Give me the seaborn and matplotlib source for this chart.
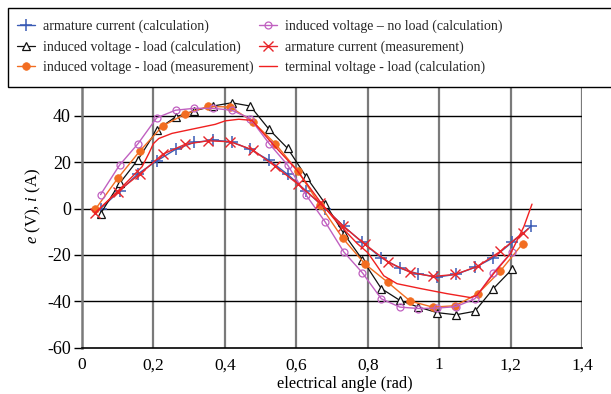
import matplotlib
matplotlib.use("Agg")
import matplotlib.pyplot as plt
import seaborn as sns
import pandas as pd
from matplotlib.patches import Rectangle

# ---- data ----
x_calc = [0.052, 0.105, 0.157, 0.209, 0.262, 0.314, 0.367, 0.419, 0.471, 0.524,
          0.576, 0.628, 0.681, 0.733, 0.785, 0.838, 0.890, 0.942, 0.995, 1.047,
          1.100, 1.152, 1.204, 1.257]
i_calc = [0, 7.5, 15, 20.5, 25.5, 28.5, 29.5, 28.8, 25.5, 20.8,
          14.7, 7.5, 0, -7.7, -14.6, -21.2, -25.7, -28.2, -29.5, -28.4,
          -25.4, -21.2, -14.6, -7.7]
e_load_calc = [-2.2, 10.8, 21.1, 33.8, 39.5, 42.1, 44.2, 45.6, 44.2, 34.1,
               25.9, 13.6, 2.1, -10.8, -22, -34.5, -39.6, -42.5, -44.9, -45.8,
               -44.3, -34.5, -26.2]
e_noload_calc = [6, 18.7, 28, 39.1, 42.4, 43.2, 43.2, 42.4, 38.8, 28,
                 18.7, 5.7, -5.8, -18.7, -27.7, -38.9, -42.5, -43.1, -42.9, -42.3,
                 -38.9, -27.7, -18.6]
x_meas = [0.037, 0.100, 0.163, 0.226, 0.289, 0.352, 0.415, 0.478, 0.541, 0.604,
          0.667, 0.730, 0.793, 0.856, 0.919, 0.982, 1.045, 1.108, 1.171, 1.234]
i_meas = [-1.8, 7.3, 15, 23.4, 27.7, 29.2, 28.8, 25.3, 18.2, 10.6,
          2.2, -7.4, -15.5, -23, -27.5, -29.3, -28.4, -24.9, -18.5, -10.5]
e_load_meas = [-0.4, 13, 25, 35.6, 40.8, 44, 43.8, 37.5, 28, 16.2,
               1.4, -12.8, -24, -31.8, -39.9, -42.5, -41.9, -36.8, -27, -15.1]
x_term = [0.035, 0.103, 0.168, 0.187, 0.200, 0.215, 0.252, 0.317, 0.373, 0.401,
          0.439, 0.476, 0.537, 0.602, 0.667, 0.705, 0.733, 0.770, 0.800, 0.825,
          0.845, 0.882, 0.948, 1.022, 1.088, 1.106, 1.153, 1.200, 1.237, 1.260]
u_term = [-2.2, 7.9, 18, 23.7, 28, 30.2, 32.4, 34.5, 36.3, 37.8,
          38.5, 38.0, 27.3, 16.5, 2.9, -4.3, -9, -15, -19, -24.5,
          -29, -32.4, -34.5, -36.7, -38.4, -37.4, -28, -19.4, -7.9, 1.9]

xtick_vals = [0, 0.2, 0.4, 0.6, 0.8, 1.0, 1.2, 1.4]
xtick_labels = ["0", "0,2", "0,4", "0,6", "0,8", "1", "1,2", "1,4"]
ytick_vals = [-60, -40, -20, 0, 20, 40]
ytick_labels = ["-60", "-40", "-20", "0", "20", "40"]

labels = ["armature current (calculation)",
          "induced voltage - load (calculation)",
          "induced voltage - load (measurement)",
          "induced voltage \u2013 no load (calculation)",
          "armature current (measurement)",
          "terminal voltage - load (calculation)"]

# ---- style ----
sns.set_theme(style="white")
plt.rcParams['font.family'] = ['Liberation Serif', 'DejaVu Serif']
plt.rcParams['mathtext.fontset'] = 'custom'
plt.rcParams['mathtext.rm'] = 'Liberation Serif'
plt.rcParams['mathtext.it'] = 'Liberation Serif:italic'

W, H = 611, 394
fig = plt.figure(figsize=(W / 100, H / 100), dpi=100)
ax = fig.add_axes([82 / W, 1 - 347.7 / H, (582 - 82) / W, (347.7 - 87) / H])

c_blue = "#3a5bb5"
c_black = "#111111"
c_orange = "#f26d21"
c_mag = "#c060c0"
c_red = "#e8262b"
c_red2 = "#f02020"

df_calc = pd.DataFrame({"x": x_calc, "i": i_calc})
df_calc2 = pd.DataFrame({"x": x_calc[:len(e_load_calc)], "el": e_load_calc, "en": e_noload_calc})
df_meas = pd.DataFrame({"x": x_meas, "i": i_meas, "e": e_load_meas})
df_term = pd.DataFrame({"x": x_term, "u": u_term})

sns.lineplot(data=df_calc, x="x", y="i", ax=ax, sort=False, estimator=None,
             color=c_blue, linewidth=1.0, marker="+", markersize=9,
             markeredgecolor=c_blue, markeredgewidth=1.1, label=labels[0])
sns.lineplot(data=df_calc2, x="x", y="el", ax=ax, sort=False, estimator=None,
             color=c_black, linewidth=0.9, marker="^", markersize=5.5,
             markerfacecolor="white", markeredgecolor=c_black, markeredgewidth=0.9,
             label=labels[1])
sns.lineplot(data=df_meas, x="x", y="e", ax=ax, sort=False, estimator=None,
             color=c_orange, linewidth=1.0, marker="o", markersize=5.5,
             markeredgecolor=c_orange, markeredgewidth=0.5, label=labels[2])
sns.lineplot(data=df_calc2, x="x", y="en", ax=ax, sort=False, estimator=None,
             color=c_mag, linewidth=1.0, marker="o", markersize=5,
             markerfacecolor="none", markeredgecolor=c_mag, markeredgewidth=0.9,
             label=labels[3])
sns.lineplot(data=df_meas, x="x", y="i", ax=ax, sort=False, estimator=None,
             color=c_red, linewidth=1.0, marker="x", markersize=7.5,
             markeredgecolor=c_red, markeredgewidth=1.0, label=labels[4])
sns.lineplot(data=df_term, x="x", y="u", ax=ax, sort=False, estimator=None,
             color=c_red2, linewidth=1.0, label=labels[5])

ax.set_xlim(0, 1.4)
ax.set_ylim(-60, 52.4)
ax.set_xticks(xtick_vals)
ax.set_xticklabels(xtick_labels)
ax.set_yticks(ytick_vals)
ax.set_yticklabels(ytick_labels)

# grid: vertical gray, horizontal black
for xv in xtick_vals[1:]:
    ax.axvline(xv, color="#7a7a7a", linewidth=1.6, zorder=0.5)
for yv in ytick_vals[1:]:
    ax.axhline(yv, color="black", linewidth=1.0, zorder=0.5)

for s in ["top", "right"]:
    ax.spines[s].set_visible(False)
ax.spines["left"].set_color("#7a7a7a")
ax.spines["left"].set_linewidth(1.8)
ax.spines["bottom"].set_color("black")
ax.spines["bottom"].set_linewidth(1.2)

ax.tick_params(axis="y", which="both", left=True, length=6, width=1.0,
               color="black", labelsize=13, pad=2, labelcolor="black")
ax.tick_params(axis="x", which="both", bottom=False, length=0, labelsize=12.5,
               pad=7, labelcolor="black")

ax.set_xlabel("electrical angle (rad)", fontsize=11.8, color="black")
ax.xaxis.set_label_coords((345 - 82) / 500, -(384.5 - 347.7) / 260.7)
ax.xaxis.label.set_va("center")
ax.set_ylabel("$e$ (V), $i$ (A)", fontsize=12, color="black")
ax.yaxis.set_label_coords((33 - 82) / 500, (347.7 - 206) / 260.7)
ax.yaxis.label.set_va("center")

handles, labs = ax.get_legend_handles_labels()
ax.get_legend().remove()

# legend frame
fig.patches.append(Rectangle((8 / W, 1 - 87 / H), (W - 8) / W + 0.01, 79 / H,
                             transform=fig.transFigure, fill=True,
                             facecolor="white", edgecolor="black", linewidth=1.0,
                             zorder=5))
leg = fig.legend(handles, labs, ncol=2, loc="upper left",
                 bbox_to_anchor=(7 / W, 1 - 10 / H), frameon=False,
                 fontsize=10, handlelength=1.3, handletextpad=0.58,
                 columnspacing=0.4, labelspacing=0.5, borderpad=0.2)
leg.set_zorder(6)

fig.savefig("out.png", dpi=100)
